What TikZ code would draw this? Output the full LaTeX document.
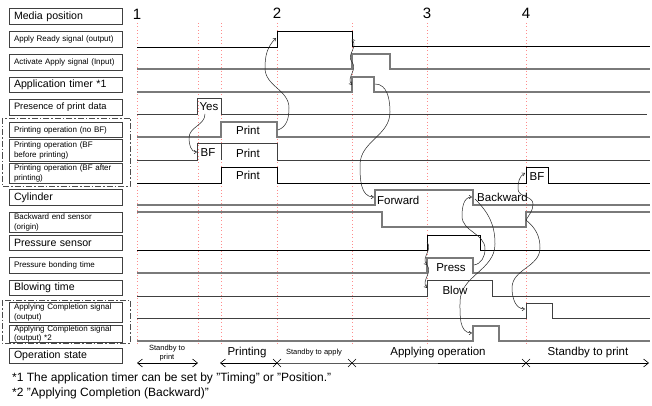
\documentclass[tikz,border=0pt]{standalone}
\usepackage{fontspec}
\setmainfont{Liberation Sans}
\usetikzlibrary{arrows.meta}
\begin{document}
\begin{tikzpicture}[x=1pt,y=-1pt,
 lbox/.style={draw=black!75, line width=1pt, anchor=north west, minimum width=113pt, text width=104pt, inner xsep=4.5pt, inner ysep=0pt, align=left, font=\fontsize{8}{9.5}\selectfont},
 big/.style={font=\fontsize{10.6}{12}\selectfont},
 med/.style={font=\fontsize{9.3}{11}\selectfont},
 sigk/.style={draw=black, line width=0.8pt},
 sigd/.style={draw=black!75, line width=1pt},
 sigg/.style={draw=black!52, line width=1.2pt},
 guide/.style={draw=red!45, line width=0.5pt, dash pattern=on 0.8pt off 2.6pt},
 cause/.style={draw=black!85, line width=0.5pt, -{Straight Barb[length=2.5pt,width=3.5pt]}},
 grp/.style={draw=black!70, line width=0.8pt, dash pattern=on 6pt off 2pt on 1.5pt off 2pt},
 ptxt/.style={font=\fontsize{11.5}{13}\selectfont, inner sep=0pt},
 ftxt/.style={font=\fontsize{12}{14}\selectfont, inner sep=0pt},
 stxt/.style={font=\fontsize{7.5}{8.5}\selectfont, align=center, inner sep=0pt},
 num/.style={font=\fontsize{15}{17}\selectfont, inner sep=0pt},
 span/.style={draw=black, line width=0.6pt},
 barb/.style={line width=0.6pt},
]
\useasboundingbox (0,0) rectangle (652,406);
\fill[white] (0,0) rectangle (652,406);
% guide lines
\foreach \gx in {137,198,221,277,352,427,526} \draw[guide] (\gx,23) -- (\gx,345);
% numbers
\node[num] (n1) at (137,14) {1};
\node[num] (n2) at (277,13) {2};
\node[num] (n3) at (427,13) {3};
\node[num] (n4) at (526,13) {4};
% label boxes
\node[lbox,big,minimum height=16pt] (l1) at (9,8) {Media position};
\node[lbox,minimum height=16pt] (l2) at (9,31) {Apply Ready signal (output)};
\node[lbox,minimum height=16pt] (l3) at (9,54) {Activate Apply signal (Input)};
\node[lbox,big,minimum height=15pt] (l4) at (9,77) {Application timer *1};
\node[lbox,med,minimum height=16pt] (l5) at (9,99) {Presence of print data};
\node[lbox,minimum height=15pt] (l6) at (9,122) {Printing operation (no BF)};
\node[lbox,minimum height=22pt] (l7) at (9,139) {Printing operation (BF\\before printing)};
\node[lbox,minimum height=20pt] (l8) at (9,163) {Printing operation (BF after\\printing)};
\node[lbox,big,minimum height=16pt] (l9) at (9,189) {Cylinder};
\node[lbox,minimum height=20pt] (l10) at (9,212) {Backward end sensor\\(origin)};
\node[lbox,big,minimum height=15pt] (l11) at (9,235) {Pressure sensor};
\node[lbox,minimum height=16pt] (l12) at (9,257) {Pressure bonding time};
\node[lbox,big,minimum height=15pt] (l13) at (9,280) {Blowing time};
\node[lbox,minimum height=20pt] (l14) at (9,302) {Applying Completion signal\\(output)};
\node[lbox,minimum height=17pt] (l15) at (9,325) {Applying Completion signal\\(output) *2};
\node[lbox,big,minimum height=15pt] (l16) at (9,348) {Operation state};
% group frames
\draw[grp] (2,118) rectangle (130,186);
\draw[grp] (2,300) rectangle (130,343);
% signals
\draw[sigk] (137,47) -- (277,47) -- (277,31) -- (352,31) -- (352,46) -- (650,46);
\draw[sigg] (137,69) -- (352,69) -- (352,54) -- (390,54) -- (390,69) -- (650,69);
\draw[sigg] (137,92) -- (352,92) -- (352,77) -- (374,77) -- (374,92) -- (650,92);
\draw[sigd] (137,115) -- (197,115) -- (197,99) -- (221,99) -- (221,115) -- (647,115);
\draw[sigg] (137,137) -- (221,137) -- (221,122) -- (277,122) -- (277,137) -- (650,137);
\draw[sigd] (137,160) -- (197,160) -- (197,144) -- (277,144) -- (277,160) -- (650,160);
\draw[sigd] (221,144) -- (221,160);
\draw[sigk] (137,183) -- (221,183) -- (221,167) -- (277,167) -- (277,183) -- (526,183) -- (526,167) -- (548,167) -- (548,183) -- (650,183);
\draw[sigg] (137,205) -- (375,205) -- (375,190) -- (473,190) -- (473,205) -- (650,205);
\draw[sigg] (137,212) -- (382,212) -- (382,227) -- (526,227) -- (526,212) -- (650,212);
\draw[sigk] (137,250) -- (427,250) -- (427,235) -- (480,235) -- (480,250) -- (650,250);
\draw[sigg, line width=1.7pt] (137,273) -- (427,273) -- (427,258) -- (473,258) -- (473,273) -- (650,273);
\draw[sigd] (137,296) -- (427,296) -- (427,280) -- (492,280) -- (492,296) -- (650,296);
\draw[sigd] (137,318) -- (526,318) -- (526,303) -- (552,303) -- (552,318) -- (650,318);
\draw[sigg] (137,341) -- (473,341) -- (473,326) -- (499,326) -- (499,341) -- (650,341);
% pulse labels
\node[ptxt] (yes) at (209,107) {Yes};
\node[ptxt] (bf1) at (208,153) {BF};
\node[ptxt] (pr1) at (248,130) {Print};
\node[ptxt] (pr2) at (248,153) {Print};
\node[ptxt] (pr3) at (248,175) {Print};
\node[ptxt,anchor=west] (fwd) at (377,200) {Forward};
\node[ptxt,anchor=west] (bwd) at (477,197) {Backward};
\node[ptxt] (press) at (451,268) {Press};
\node[ptxt] (blow) at (455,290) {Blow};
\node[ptxt] (bf2) at (537,177) {BF};
% edge coordinates
\coordinate (eYes) at (205,114);
\coordinate (eBF1) at (197,152);
\coordinate (ePrint) at (278,130);
\coordinate (eReadyUp) at (276,38);
\coordinate (eReadyDn) at (352,39);
\coordinate (eAct) at (352,62);
\coordinate (eTimUp) at (352,85);
\coordinate (eTimDn) at (375,84);
\coordinate (eFwd) at (374,197);
\coordinate (ePS) at (427,242);
\coordinate (ePress) at (427,265);
\coordinate (eBlow) at (427,288);
\coordinate (ePressEnd) at (474,265);
\coordinate (eBwd) at (472,197);
\coordinate (eBwdS) at (475,199);
\coordinate (eAC2) at (472,333);
\coordinate (eBES) at (526,220);
\coordinate (eBF2) at (525,173);
\coordinate (eAC) at (525,309);
% cause arrows
\draw[cause] (eYes) to[out=-90,in=90] (189,138) to[out=-90,in=180] (eBF1);
\draw[cause] (ePrint) to[out=20,in=-90] (289,108) to[out=90,in=-90] (265,68) to[out=90,in=-135] (eReadyUp);
\draw[cause] (eAct) .. controls (346,55) and (358,48) .. (eReadyDn);
\draw[cause] (eAct) .. controls (358,70) and (346,77) .. (eTimUp);
\draw[cause] (eTimDn) to[out=0,in=90] (390,112) to[out=-90,in=90] (360,165) to[out=-90,in=180] (eFwd);
\draw[cause] (ePS) .. controls (433,250) and (421,257) .. (ePress);
\draw[cause] (ePress) .. controls (433,273) and (421,280) .. (eBlow);
\draw[cause] (ePressEnd) to[out=10,in=-90] (485,249) to[out=90,in=-90] (462,216) to[out=90,in=180] (eBwd);
\draw[cause] (eBwdS) to[out=-45,in=90] (495,244) to[out=-90,in=90] (460,302) to[out=-90,in=180] (eAC2);
\draw[cause] (eBES) to[out=60,in=-90] (533,204) to[out=90,in=-90] (518,189) to[out=90,in=-150] (eBF2);
\draw[cause] (eBES) to[out=-40,in=90] (540,248) to[out=-90,in=90] (512,288) to[out=-90,in=180] (eAC);
% operation state
\node[stxt] (os1) at (167,353) {Standby to\\print};
\node[ptxt] (os2) at (247,353) {Printing};
\node[stxt] (os3) at (314,353) {Standby to apply};
\node[ptxt] (os4) at (438,353) {Applying operation};
\node[ptxt] (os5) at (588,353) {Standby to print};
\coordinate (s0) at (137,363);
\coordinate (s1) at (198,363);
\coordinate (s2) at (220,363);
\coordinate (s3) at (277,363);
\coordinate (s4) at (352,363);
\coordinate (s5) at (526,363);
\coordinate (s6) at (649,363);
\draw[span,{Straight Barb[length=5pt,width=8pt]}-{Straight Barb[length=5pt,width=8pt]}] (s0) -- (s1);
\draw[span,{Straight Barb[length=5pt,width=8pt]}-] (s2) -- (s3);
\draw[span] (s3) -- (s4) -- (s5);
\draw[span,-{Straight Barb[length=5pt,width=8pt]}] (s5) -- (s6);
\foreach \c in {s3,s4,s5} {
  \draw[barb] ([shift={(-4,-4)}]\c) -- ([shift={(4,4)}]\c);
  \draw[barb] ([shift={(-4,4)}]\c) -- ([shift={(4,-4)}]\c);
}
% footnotes
\node[ftxt,anchor=west] (fn1) at (12,378) {*1 The application timer can be set by \char"22 Timing\char"22{} or \char"22 Position.\char"22};
\node[ftxt,anchor=west] (fn2) at (12,393) {*2 \char"22 Applying Completion (Backward)\char"22};
\end{tikzpicture}
\end{document}
